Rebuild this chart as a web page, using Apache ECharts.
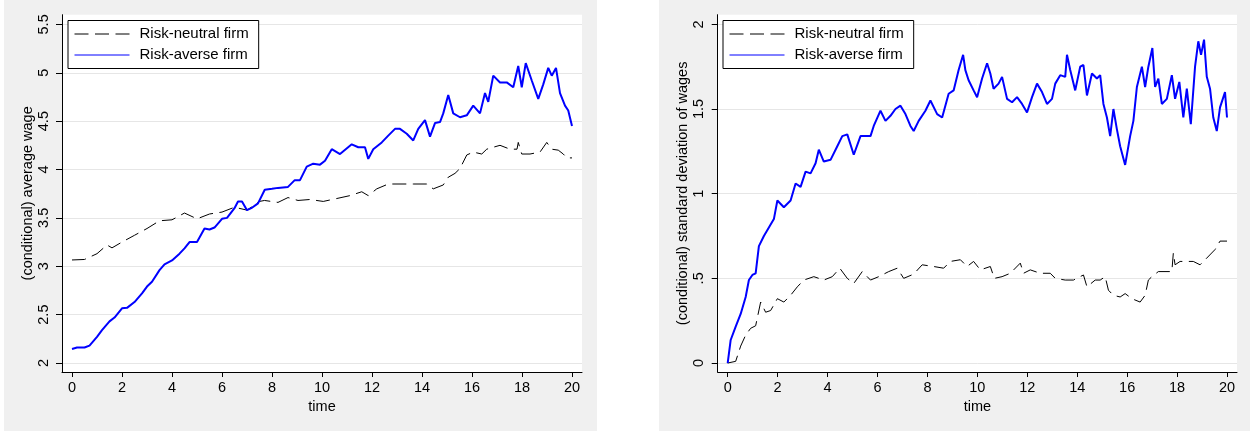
<!DOCTYPE html>
<html>
<head>
<meta charset="utf-8">
<script src="https://cdn.jsdelivr.net/npm/echarts@6/dist/echarts.min.js"></script>
<style>
html,body{margin:0;padding:0;background:#fff;}
#c{width:1250px;height:431px;}
</style>
</head>
<body>
<div id="c"></div>
<script>
// ---- data (time, value) ----
const xTicks = [0,2,4,6,8,10,12,14,16,18,20];
const yTicksLeft = [2,2.5,3,3.5,4,4.5,5,5.5];
const yTicksRight = [0,0.5,1,1.5,2];
const seriesNames = ['Risk-neutral firm','Risk-averse firm'];

const wageNeutral = [[0,3.065],[0.5,3.07],[1.0,3.13],[1.4,3.22],[1.6,3.19],[2.0,3.25],[2.5,3.32],[3.0,3.39],[3.5,3.47],[4.0,3.48],[4.5,3.55],[5.0,3.49],[5.5,3.54],[6.0,3.56],[6.5,3.61],[7.0,3.58],[7.5,3.67],[7.7,3.68],[8.24,3.66],[8.64,3.71],[9.04,3.68],[9.52,3.69],[10.05,3.67],[10.59,3.70],[11.12,3.73],[11.59,3.77],[11.85,3.73],[12.19,3.80],[12.65,3.85],[13.12,3.85],[13.65,3.85],[14.19,3.85],[14.45,3.80],[14.85,3.84],[15.05,3.92],[15.32,3.96],[15.52,4.01],[15.79,4.15],[16.05,4.18],[16.39,4.16],[16.59,4.21],[16.85,4.23],[17.12,4.25],[17.52,4.21],[17.8,4.21],[17.85,4.28],[17.99,4.16],[18.32,4.16],[18.72,4.18],[18.99,4.28],[19.19,4.21],[19.45,4.20],[19.65,4.16],[19.8,4.12],[20.0,4.12]];

const wageAverse = [[0,2.145],[0.2,2.16],[0.5,2.16],[0.7,2.18],[1.0,2.27],[1.2,2.34],[1.5,2.43],[1.7,2.47],[2.0,2.565],[2.2,2.57],[2.5,2.63],[2.8,2.72],[3.0,2.79],[3.2,2.84],[3.5,2.96],[3.7,3.02],[4.0,3.06],[4.3,3.13],[4.5,3.185],[4.7,3.25],[5.0,3.25],[5.3,3.39],[5.5,3.38],[5.7,3.40],[6.0,3.49],[6.2,3.50],[6.5,3.60],[6.64,3.67],[6.8,3.67],[7.0,3.58],[7.17,3.60],[7.44,3.65],[7.71,3.79],[8.0,3.80],[8.24,3.81],[8.64,3.82],[8.91,3.89],[9.12,3.89],[9.39,4.03],[9.65,4.06],[9.92,4.05],[10.12,4.09],[10.39,4.21],[10.72,4.16],[11.19,4.26],[11.45,4.23],[11.72,4.23],[11.85,4.11],[12.05,4.21],[12.39,4.28],[12.65,4.35],[12.92,4.42],[13.12,4.42],[13.39,4.37],[13.65,4.30],[13.85,4.42],[14.12,4.51],[14.32,4.34],[14.52,4.48],[14.72,4.49],[14.85,4.58],[15.05,4.77],[15.25,4.58],[15.52,4.54],[15.79,4.56],[16.05,4.66],[16.32,4.58],[16.52,4.79],[16.65,4.70],[16.85,4.97],[17.12,4.90],[17.39,4.90],[17.65,4.85],[17.85,5.07],[17.99,4.85],[18.15,5.10],[18.39,4.92],[18.65,4.73],[18.85,4.88],[19.05,5.05],[19.19,4.97],[19.36,5.05],[19.52,4.79],[19.72,4.66],[19.85,4.61],[20.0,4.45]];

const sdNeutral = [[0,0],[0.32,0.01],[0.52,0.10],[0.72,0.165],[0.92,0.205],[1.12,0.22],[1.32,0.36],[1.52,0.30],[1.72,0.31],[1.99,0.38],[2.25,0.36],[2.52,0.40],[2.79,0.45],[3.05,0.49],[3.45,0.51],[3.85,0.49],[4.19,0.51],[4.49,0.56],[4.79,0.50],[5.05,0.47],[5.39,0.54],[5.72,0.49],[6.05,0.51],[6.45,0.54],[6.79,0.56],[7.05,0.50],[7.45,0.525],[7.79,0.58],[8.25,0.57],[8.65,0.56],[8.92,0.60],[9.32,0.61],[9.59,0.57],[9.85,0.60],[10.12,0.55],[10.52,0.57],[10.68,0.50],[10.99,0.51],[11.32,0.53],[11.72,0.59],[11.85,0.53],[12.12,0.55],[12.52,0.53],[12.92,0.53],[13.12,0.50],[13.52,0.49],[13.85,0.49],[14.25,0.52],[14.39,0.45],[14.72,0.49],[14.92,0.49],[15.12,0.51],[15.25,0.43],[15.45,0.40],[15.72,0.39],[15.92,0.41],[16.19,0.38],[16.52,0.36],[16.72,0.40],[16.85,0.49],[16.99,0.51],[17.25,0.54],[17.79,0.54],[17.85,0.65],[17.92,0.58],[18.12,0.60],[18.65,0.60],[18.92,0.58],[19.19,0.62],[19.52,0.67],[19.72,0.72],[20.0,0.72]];

const sdAverse = [[0,0],[0.12,0.136],[0.32,0.215],[0.52,0.29],[0.72,0.39],[0.85,0.49],[0.99,0.52],[1.12,0.53],[1.25,0.69],[1.45,0.75],[1.65,0.80],[1.85,0.85],[1.99,0.96],[2.25,0.92],[2.52,0.96],[2.72,1.06],[2.92,1.04],[3.12,1.13],[3.32,1.12],[3.52,1.18],[3.65,1.26],[3.85,1.19],[4.12,1.20],[4.39,1.28],[4.59,1.34],[4.79,1.35],[5.05,1.23],[5.32,1.34],[5.72,1.34],[5.85,1.40],[6.12,1.49],[6.32,1.43],[6.52,1.46],[6.72,1.50],[6.92,1.52],[7.12,1.47],[7.32,1.40],[7.45,1.37],[7.65,1.43],[7.92,1.49],[8.12,1.55],[8.39,1.47],[8.59,1.45],[8.85,1.59],[9.05,1.61],[9.25,1.73],[9.43,1.82],[9.52,1.73],[9.65,1.67],[9.85,1.61],[9.99,1.57],[10.19,1.68],[10.39,1.77],[10.52,1.71],[10.65,1.62],[10.85,1.65],[10.99,1.69],[11.19,1.56],[11.39,1.54],[11.59,1.57],[11.79,1.53],[11.99,1.48],[12.19,1.57],[12.39,1.65],[12.59,1.60],[12.79,1.53],[12.99,1.56],[13.12,1.65],[13.32,1.70],[13.52,1.69],[13.59,1.82],[13.72,1.73],[13.92,1.61],[14.12,1.75],[14.25,1.76],[14.39,1.58],[14.59,1.71],[14.79,1.68],[14.92,1.70],[15.05,1.53],[15.19,1.45],[15.32,1.34],[15.45,1.50],[15.59,1.38],[15.72,1.28],[15.92,1.17],[16.12,1.34],[16.25,1.43],[16.39,1.63],[16.59,1.75],[16.72,1.63],[16.85,1.75],[17.01,1.86],[17.12,1.63],[17.25,1.68],[17.39,1.53],[17.59,1.56],[17.79,1.70],[17.92,1.56],[18.09,1.66],[18.25,1.45],[18.39,1.62],[18.55,1.41],[18.72,1.75],[18.85,1.90],[18.96,1.82],[19.08,1.91],[19.19,1.69],[19.32,1.62],[19.45,1.45],[19.59,1.37],[19.72,1.51],[19.92,1.60],[20.0,1.45]];

// ---- chart ----
const FONT = '"Liberation Sans", Arial, Helvetica, sans-serif';
const chart = echarts.init(document.getElementById('c'), null, {renderer:'canvas'});
const stataFmt = v => String(v).replace(/^0\./,'.');

function xAxisCfg(gi){
  return {
    type:'value', gridIndex:gi, min:-0.4, max:20.4,
    name:'time', nameLocation:'middle', nameGap:24,
    nameTextStyle:{fontFamily:FONT,fontSize:14.5,color:'#000'},
    axisLine:{show:true,onZero:false,lineStyle:{color:'#000',width:1}},
    axisTick:{show:true,length:5,customValues:xTicks,lineStyle:{color:'#000'}},
    axisLabel:{customValues:xTicks,margin:8,fontFamily:FONT,fontSize:14.5,color:'#000'},
    splitLine:{show:false}
  };
}
function yAxisCfg(gi,min,max,ticks,name){
  return {
    type:'value', gridIndex:gi, min:min, max:max,
    name:name, nameLocation:'middle', nameGap:26, nameRotate:90,
    nameTextStyle:{fontFamily:FONT,fontSize:14.5,color:'#000'},
    axisLine:{show:true,onZero:false,lineStyle:{color:'#000',width:1}},
    axisTick:{show:true,length:6,customValues:ticks,lineStyle:{color:'#000'}},
    axisLabel:{customValues:ticks,rotate:90,margin:11,fontFamily:FONT,fontSize:14.5,color:'#000',formatter:stataFmt},
    splitLine:{show:true,lineStyle:{color:'#e6e6e6',width:1}}
  };
}
function legendCfg(left){
  return {
    left:left, top:20.5, orient:'vertical',
    data:seriesNames,
    itemWidth:55, itemHeight:14, itemGap:6,
    padding:[6,10,6,6],
    backgroundColor:'#fff', borderColor:'#000', borderWidth:1, borderRadius:0,
    lineStyle:{width:1},
    itemStyle:{color:'rgba(0,0,0,0)',borderWidth:0,opacity:0},
    textStyle:{fontFamily:FONT,fontSize:15,color:'#000',padding:[0,0,0,5]}
  };
}
const neutralStyle = {color:'#000',width:1,type:[14,6.5]};
const averseStyle = {color:'#0000ff',width:2};

chart.setOption({
  animation:false,
  backgroundColor:'#fff',
  graphic:[
    {type:'rect',z:-100,shape:{x:4,y:0,width:593,height:431},style:{fill:'#f0f0f0'}},
    {type:'rect',z:-100,shape:{x:659,y:0,width:591,height:431},style:{fill:'#f0f0f0'}}
  ],
  grid:[
    {left:62,top:14.7,width:520,height:357.3,show:true,backgroundColor:'#fff',borderWidth:0},
    {left:717.7,top:14.7,width:519.3,height:357.3,show:true,backgroundColor:'#fff',borderWidth:0}
  ],
  legend:[legendCfg(68),legendCfg(723)],
  xAxis:[xAxisCfg(0),xAxisCfg(1)],
  yAxis:[
    yAxisCfg(0,1.907,5.6,yTicksLeft,'(conditional) average wage'),
    yAxisCfg(1,-0.053,2.057,yTicksRight,'(conditional) standard deviation of wages')
  ],
  series:[
    {name:seriesNames[0],type:'line',xAxisIndex:0,yAxisIndex:0,data:wageNeutral,symbol:'none',lineStyle:neutralStyle,itemStyle:{color:'#000'},z:3},
    {name:seriesNames[1],type:'line',xAxisIndex:0,yAxisIndex:0,data:wageAverse,symbol:'none',lineStyle:averseStyle,itemStyle:{color:'#0000ff'},z:4},
    {name:seriesNames[0],type:'line',xAxisIndex:1,yAxisIndex:1,data:sdNeutral,symbol:'none',lineStyle:neutralStyle,itemStyle:{color:'#000'},z:3},
    {name:seriesNames[1],type:'line',xAxisIndex:1,yAxisIndex:1,data:sdAverse,symbol:'none',lineStyle:averseStyle,itemStyle:{color:'#0000ff'},z:4}
  ]
});
</script>
</body>
</html>
